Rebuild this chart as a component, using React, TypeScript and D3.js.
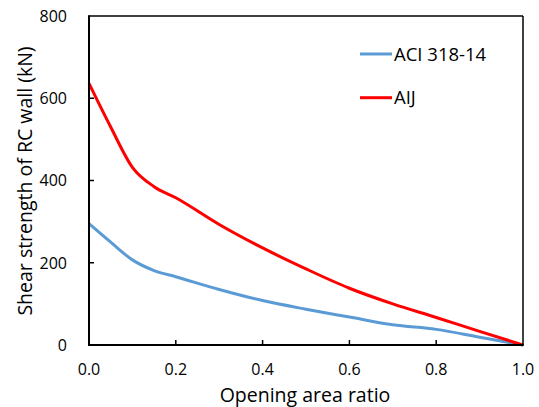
import React from "react";
import * as d3 from "d3";

const ratios = [0, 0.05, 0.1, 0.15, 0.2, 0.3, 0.4, 0.5, 0.6, 0.7, 0.8, 0.9, 1.0];
const aci = [295, 250, 207, 181, 166, 135, 108, 87, 68, 49, 38, 19, 0];
const aij = [636, 530, 432, 385, 358, 293, 236, 185, 138, 100, 67, 33, 0];
const xTicks = [0, 0.2, 0.4, 0.6, 0.8, 1.0];
const yTicks = [0, 200, 400, 600, 800];
const seriesNames = ["ACI 318-14", "AIJ"];
const seriesColors = ["#5B9BD5", "#FF0000"];

export default function App() {
  const W = 539, H = 407;
  const left = 89, right = 523, top = 16, bottom = 345;
  const x = d3.scaleLinear().domain([0, 1]).range([left, right]);
  const y = d3.scaleLinear().domain([0, 800]).range([bottom, top]);
  const line = d3
    .line<[number, number]>()
    .x((d) => x(d[0]))
    .y((d) => y(d[1]))
    .curve(d3.curveMonotoneX);
  const series = [aci, aij];
  const font = "'Open Sans', sans-serif";
  return (
    <svg width={W} height={H} style={{ position: "absolute", left: 0, top: 0, background: "#fff" }}>
      <rect x={0} y={0} width={W} height={H} fill="#fff" />
      {series.map((s, i) => (
        <path
          key={i}
          d={line(ratios.map((r, j) => [r, s[j]] as [number, number])) || ""}
          fill="none"
          stroke={seriesColors[i]}
          strokeWidth={3}
          strokeLinejoin="round"
        />
      ))}
      {/* frame */}
      <line x1={left} x2={right} y1={top} y2={top} stroke="#000" strokeWidth={1.5} />
      <line x1={right} x2={right} y1={top} y2={bottom} stroke="#000" strokeWidth={1.5} />
      <line x1={left} x2={left} y1={top - 0.75} y2={bottom + 1} stroke="#000" strokeWidth={2} />
      <line x1={left - 1} x2={right + 0.75} y1={bottom} y2={bottom} stroke="#000" strokeWidth={2} />
      {xTicks.map((t) => (
        <g key={"x" + t}>
          {t > 0 && t < 1 && (
            <line x1={x(t)} x2={x(t)} y1={bottom} y2={bottom - 5} stroke="#000" strokeWidth={1.5} />
          )}
          <text x={x(t)} y={375} textAnchor="middle" fontFamily={font} fontSize={16} fill="#000">
            {d3.format(".1f")(t)}
          </text>
        </g>
      ))}
      {yTicks.map((t) => (
        <g key={"y" + t}>
          {t > 0 && t < 800 && (
            <line x1={left} x2={left + 5} y1={y(t)} y2={y(t)} stroke="#000" strokeWidth={1.5} />
          )}
          <text x={67} y={y(t) + 5.8} textAnchor="end" fontFamily={font} fontSize={16} fill="#000">
            {t}
          </text>
        </g>
      ))}
      <text x={305} y={402} textAnchor="middle" fontFamily={font} fontSize={19.5} fill="#000">
        Opening area ratio
      </text>
      <text
        transform={`translate(32,${181}) rotate(-90)`}
        textAnchor="middle"
        fontFamily={font}
        fontSize={19.5}
        fill="#000"
      >
        Shear strength of RC wall (kN)
      </text>
      {seriesNames.map((n, i) => (
        <g key={n} transform={`translate(0,${54 + i * 43.7})`}>
          <line x1={360} x2={392} y1={0} y2={0} stroke={seriesColors[i]} strokeWidth={3} />
          <text x={394} y={6.5} fontFamily={font} fontSize={18.5} fill="#000">
            {n}
          </text>
        </g>
      ))}
    </svg>
  );
}
